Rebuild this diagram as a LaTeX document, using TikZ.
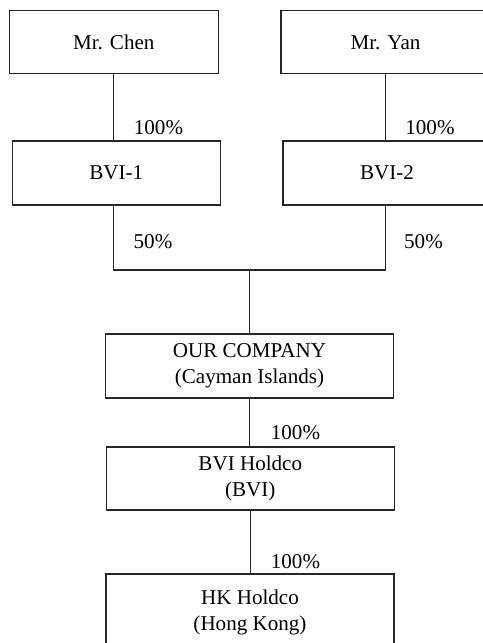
\documentclass[tikz,border=0pt]{standalone}
\usepackage{fontspec}
\setmainfont{Liberation Serif}
\usepackage{tikz}
\usetikzlibrary{calc}

\begin{document}
\begin{tikzpicture}[entity/.style={shape=rectangle,draw,inner sep=0pt,align=center,minimum width=#1},entity/.default=4.18cm,
every node/.style={font=\fontsize{12}{14.8}\selectfont},line width=0.6pt,draw=black!85]
\useasboundingbox (0,0) rectangle (9.66,12.86);
\draw (2.276000,12.014000) node (chen) [entity,minimum height=1.266cm] {Mr. Chen};
\draw (7.710000,12.014000) node (yan) [entity,minimum height=1.266cm] {Mr. Yan};
\draw (2.326000,9.400000) node (bvi1) [entity=4.16cm,minimum height=1.28cm] {BVI-1};
\draw (7.740000,9.400000) node (bvi2) [entity=4.16cm,minimum height=1.28cm] {BVI-2};
\draw (chen.south) -- (chen.south |- bvi1.north);
\draw (yan.south) -- (yan.south |- bvi2.north);
\draw (3.170000,10.300000) node (pchen) {100\%};
\draw (8.600000,10.300000) node (pyan) {100\%};
\draw (4.990000,5.540000) node (ourco) [entity=5.77cm,minimum height=1.28cm] {OUR COMPANY\\(Cayman Islands)};
\coordinate (join) at ($(ourco.north |- 0,7.460000)$);
\draw (chen.south |- bvi1.south) |- (join) -| (yan.south |- bvi2.south);
\draw (join) -- (ourco.north);
\draw (3.060000,8.020000) node (pbvi1) {50\%};
\draw (8.470000,8.020000) node (pbvi2) {50\%};
\draw (5.006000,3.290000) node (bvihold) [entity=5.77cm,minimum height=1.26cm] {BVI Holdco\\(BVI)};
\draw (ourco.south) -- (ourco.south |- bvihold.north);
\draw (5.910000,4.200000) node (pbvihold) {100\%};
\draw (5.000000,0.620000) node (hkhold) [entity=5.76cm,minimum height=1.52cm] {HK Holdco\\(Hong Kong)};
\draw (bvihold.south) -- (bvihold.south |- hkhold.north);
\draw (5.910000,1.620000) node (phkhold) {100\%};
\end{tikzpicture}
\end{document}
